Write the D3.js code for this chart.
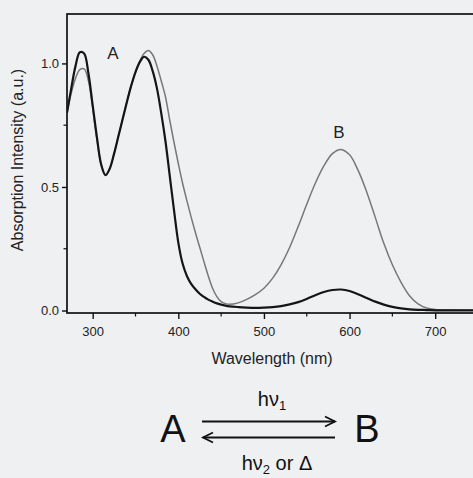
<!DOCTYPE html>
<html>
<head>
<meta charset="utf-8">
<script src="https://cdn.jsdelivr.net/npm/d3@7"></script>
<style>
  body { margin:0; background:#eef0f2; }
  svg { display:block; font-family:"Liberation Sans", Arial, sans-serif; }
</style>
</head>
<body>
<svg id="chart" width="473" height="478"></svg>
<script>
// wavelength grid (nm)
var wavelengths = [270,275,280,285,290,295,300,305,310,315,320,325,330,335,340,345,350,355,360,365,370,375,380,385,390,395,400,405,410,415,420,425,430,435,440,445,450,455,460,470,480,490,500,510,520,530,540,550,560,570,580,590,600,610,620,630,640,650,660,670,680,690,700,720,750]

// form A (black)
var absA = [0.80,0.90,0.99,1.045,1.04,0.96,0.83,0.70,0.59,0.548,0.575,0.635,0.705,0.775,0.845,0.91,0.965,1.005,1.027,1.015,0.97,0.90,0.80,0.685,0.545,0.405,0.275,0.19,0.14,0.108,0.086,0.068,0.055,0.044,0.036,0.029,0.024,0.020,0.017,0.014,0.012,0.011,0.012,0.014,0.018,0.025,0.034,0.047,0.062,0.075,0.083,0.085,0.079,0.066,0.051,0.036,0.024,0.015,0.009,0.005,0.003,0.002,0.001,0.001,0.001]

// form B (gray)
var absB = [0.80,0.88,0.94,0.975,0.978,0.93,0.82,0.69,0.59,0.548,0.575,0.635,0.705,0.775,0.845,0.91,0.965,1.01,1.04,1.052,1.035,0.99,0.93,0.865,0.77,0.68,0.595,0.515,0.445,0.378,0.315,0.256,0.197,0.14,0.09,0.056,0.036,0.028,0.025,0.031,0.045,0.064,0.09,0.13,0.185,0.255,0.34,0.43,0.515,0.585,0.635,0.652,0.63,0.567,0.48,0.377,0.272,0.185,0.115,0.06,0.027,0.01,0.004,0.002,0.001]

var xTicks = [300,400,500,600,700]
var xMinor = [350,450,550,650]
var yTicks = [0,0.5,1.0]
var yMinor = [0.25,0.75]

var svg = d3.select("#chart")
var pLeft = 67, pRight = 478, pTop = 14, pBottom = 313

var x = d3.scaleLinear().domain([270,750]).range([pLeft,pRight])
var y = d3.scaleLinear().domain([-0.01,1.2]).range([pBottom,pTop])

// Frame
svg.append('rect')
.attr('x', pLeft).attr('y', pTop)
.attr('width', pRight-pLeft).attr('height', pBottom-pTop)
.attr('fill', 'none').attr('stroke', '#111').attr('stroke-width', 1.7)

// X axis
var xAxis = svg.append('g').attr('transform', `translate(0,${pBottom})`)
.call(d3.axisBottom(x).tickValues(xTicks).tickSize(6).tickSizeOuter(0).tickPadding(8).tickFormat(d3.format('d')))
xAxis.select('.domain').remove()
xAxis.selectAll('line').attr('stroke', '#111').attr('stroke-width', 1.4)
xAxis.selectAll('text').attr('font-size', 13).attr('fill', '#222').attr('font-family', 'inherit')

svg.append('g').selectAll('line').data(xMinor).enter().append('line')
.attr('x1', d=>x(d)).attr('x2', d=>x(d))
.attr('y1', pBottom).attr('y2', pBottom+3.5)
.attr('stroke', '#111').attr('stroke-width', 1.2)

// Y axis
var yAxis = svg.append('g').attr('transform', `translate(${pLeft},0)`)
.call(d3.axisLeft(y).tickValues(yTicks).tickSize(5).tickSizeOuter(0).tickPadding(3).tickFormat(d3.format('.1f')))
yAxis.select('.domain').remove()
yAxis.selectAll('line').attr('stroke', '#111').attr('stroke-width', 1.4)
yAxis.selectAll('text').attr('font-size', 13).attr('fill', '#222').attr('font-family', 'inherit')

svg.append('g').selectAll('line').data(yMinor).enter().append('line')
.attr('x1', pLeft-3.5).attr('x2', pLeft)
.attr('y1', d=>y(d)).attr('y2', d=>y(d))
.attr('stroke', '#111').attr('stroke-width', 1.2)

// Titles
svg.append('text')
.attr('transform', 'translate(23,160) rotate(-90)')
.attr('text-anchor', 'middle')
.attr('font-size', 16).attr('fill', '#222')
.text('Absorption Intensity (a.u.)')

svg.append('text')
.attr('x', 272).attr('y', 364)
.attr('text-anchor', 'middle')
.attr('font-size', 16).attr('fill', '#222')
.text('Wavelength (nm)')

// Curves
var clip = svg.append('clipPath').attr('id', 'plotclip')
clip.append('rect').attr('x', pLeft).attr('y', pTop).attr('width', pRight-pLeft).attr('height', pBottom-pTop)

var line = d3.line()
.x((d,i)=>x(wavelengths[i]))
.y(d=>y(d))
.curve(d3.curveCatmullRom.alpha(0.5))

svg.append('path').datum(absB)
.attr('d', line)
.attr('fill', 'none').attr('stroke', '#777').attr('stroke-width', 1.5)
.attr('clip-path', 'url(#plotclip)')

svg.append('path').datum(absA)
.attr('d', line)
.attr('fill', 'none').attr('stroke', '#151515').attr('stroke-width', 2.2)
.attr('clip-path', 'url(#plotclip)')

// Peak labels
svg.append('text').attr('x', 113).attr('y', 59)
.attr('text-anchor', 'middle').attr('font-size', 17).attr('fill', '#222').text('A')
svg.append('text').attr('x', 339).attr('y', 138)
.attr('text-anchor', 'middle').attr('font-size', 17).attr('fill', '#222').text('B')

// Reaction scheme
var scheme = svg.append('g').attr('fill', '#111')
scheme.append('text').attr('x', 173).attr('y', 442)
.attr('text-anchor', 'middle').attr('font-size', 38).text('A')
scheme.append('text').attr('x', 367).attr('y', 442)
.attr('text-anchor', 'middle').attr('font-size', 38).text('B')

var arrows = scheme.append('g').attr('stroke', '#111').attr('stroke-width', 1.8).attr('fill', 'none')
arrows.append('line').attr('x1', 202).attr('x2', 335).attr('y1', 421.5).attr('y2', 421.5)
arrows.append('path').attr('d', 'M325,416.5 L335,421.5 L325,426.5')
arrows.append('line').attr('x1', 203).attr('x2', 335).attr('y1', 437.5).attr('y2', 437.5)
arrows.append('path').attr('d', 'M213,432.5 L203,437.5 L213,442.5')

var hv1 = scheme.append('text').attr('x', 272).attr('y', 406)
.attr('text-anchor', 'middle').attr('font-size', 20)
hv1.append('tspan').text('hν')
hv1.append('tspan').attr('font-size', 13).attr('dy', 4).text('1')

var hv2 = scheme.append('text').attr('x', 277).attr('y', 470)
.attr('text-anchor', 'middle').attr('font-size', 20)
hv2.append('tspan').text('hν')
hv2.append('tspan').attr('font-size', 13).attr('dy', 4).text('2')
hv2.append('tspan').attr('dy', -4).text(' or Δ')
</script>
</body>
</html>
